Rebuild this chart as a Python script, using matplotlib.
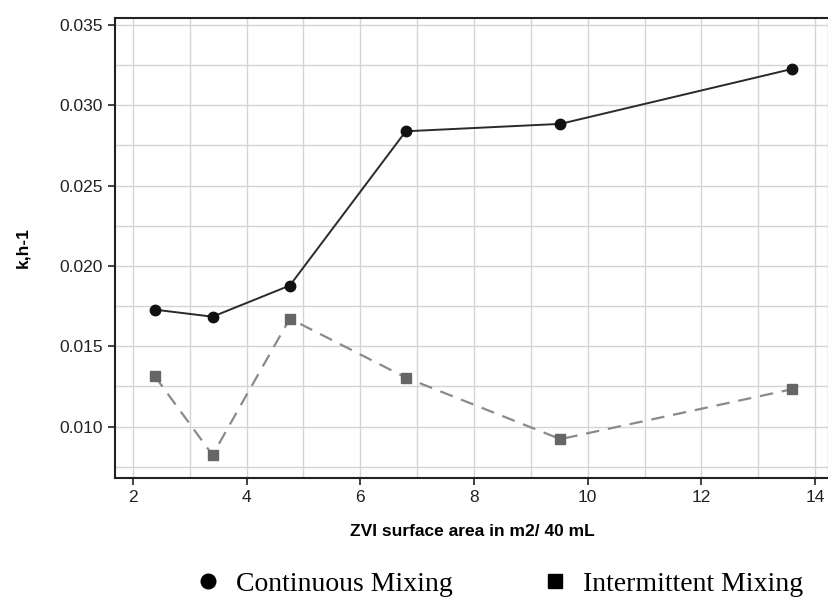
import matplotlib
matplotlib.use("Agg")
import matplotlib.pyplot as plt
from matplotlib.lines import Line2D
from matplotlib.ticker import MultipleLocator

surface_area = [2.38, 3.40, 4.76, 6.80, 9.52, 13.60]
continuous = [0.01728, 0.01684, 0.01878, 0.02838, 0.02884, 0.03226]
intermittent = [0.01316, 0.00823, 0.01672, 0.01305, 0.00922, 0.01233]

x_label = "ZVI surface area in m2/ 40 mL"
y_label = "k,h-1"
legend_labels = ["Continuous Mixing", "Intermittent Mixing"]

fig = plt.figure(figsize=(8.29, 5.99), dpi=100)
ax = fig.add_axes([115/829, 121/599, 714/829, 460/599])

ax.plot(surface_area, continuous, color="#2a2a2a", lw=1.4, marker="o",
        ms=7.5, mfc="#111111", mec="#111111", zorder=3)
ax.plot(surface_area, intermittent, color="#8a8a8a", lw=1.6, ls=(0, (6, 4)),
        marker="s", ms=7, mfc="#666666", mec="#666666", zorder=3)

ax.set_xlim(1.684, 14.246)
ax.set_ylim(0.0068, 0.03543)
ax.xaxis.set_major_locator(MultipleLocator(2))
ax.xaxis.set_minor_locator(MultipleLocator(1))
ax.yaxis.set_major_locator(MultipleLocator(0.005))
ax.yaxis.set_minor_locator(MultipleLocator(0.0025))
ax.yaxis.set_major_formatter(matplotlib.ticker.FormatStrFormatter("%.3f"))

ax.grid(True, which="both", color="#d4d4d4", lw=1.0, zorder=0)
ax.tick_params(which="major", direction="out", length=5, width=1.2,
               labelsize=12.5, labelcolor="#222222", color="#222222")
ax.tick_params(which="minor", length=0)
for lab in ax.get_xticklabels() + ax.get_yticklabels():
    lab.set_family("Liberation Sans")
for s in ax.spines.values():
    s.set_color("#222222")
    s.set_linewidth(1.5)

ax.set_xlabel(x_label, fontsize=12.5, fontweight="bold", family="Liberation Sans")
ax.set_ylabel(y_label, fontsize=12.5, fontweight="bold", family="Liberation Sans")
ax.xaxis.set_label_coords(0.5, -0.10)
ax.yaxis.set_label_coords(-0.118, 0.5)

handles = [
    Line2D([], [], ls="none", marker="o", ms=10.5, mfc="black", mec="black"),
    Line2D([], [], ls="none", marker="s", ms=9.5, mfc="black", mec="black"),
]
fig.legend(handles, legend_labels, loc="lower left", ncol=2,
           bbox_to_anchor=(194/829, 2/599), frameon=False,
           prop={"family": "Liberation Serif", "size": 20},
           handlelength=1.0, handletextpad=0.5, columnspacing=3.2,
           borderpad=0.0, borderaxespad=0.0)

fig.savefig("out.png", dpi=100)
